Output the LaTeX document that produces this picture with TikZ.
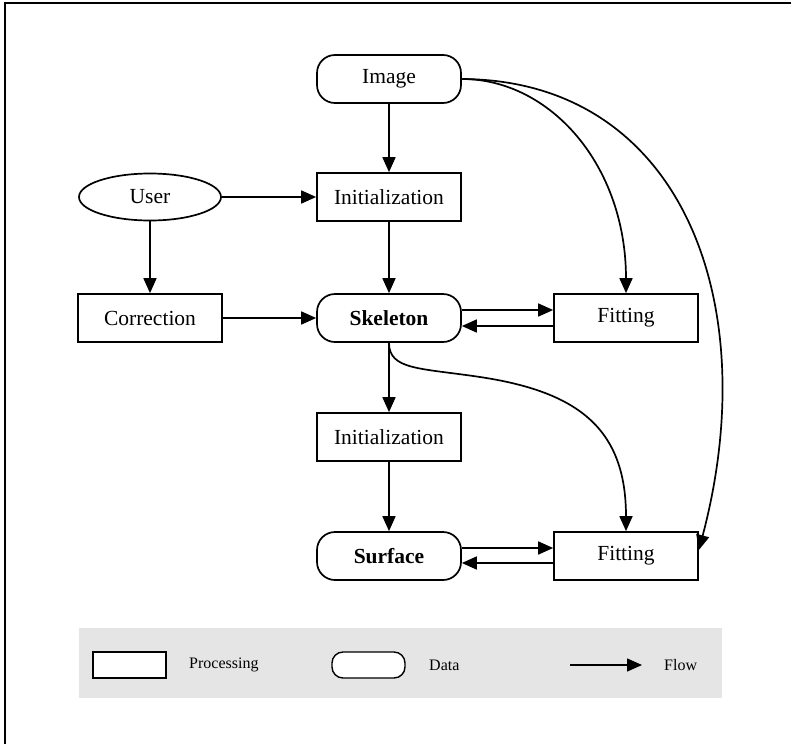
\documentclass[tikz,border=0pt]{standalone}
\usepackage{fontspec}
\setmainfont{Liberation Serif}
\usetikzlibrary{arrows.meta,shapes.geometric}
\begin{document}
\begin{tikzpicture}[x=1pt,y=-1pt,
  txt/.style={font=\fontsize{21.5}{25}\selectfont},
  proc/.style={draw,line width=1.7pt,minimum width=144pt,minimum height=48pt,inner sep=0pt,txt},
  data/.style={proc,rounded corners=18pt},
  usr/.style={draw,ellipse,line width=1.7pt,minimum width=142pt,minimum height=47pt,inner sep=0pt,txt},
  flow/.style={line width=1.7pt,-{Triangle[length=15pt,width=13pt]}},
  lgbox/.style={draw,line width=1.4pt,minimum width=73pt,minimum height=26pt,inner sep=0pt},
  lgtxt/.style={font=\fontsize{16}{18}\selectfont,inner sep=0pt}
  ]
\useasboundingbox (0,0) rectangle (791,744);
% frame
\draw[line width=1.5pt] (5,744) -- (5,3) -- (791,3);

% nodes
\node[data] (img) at (389,79) {Image};
\node[proc] (ini1) at (389,197) {Initialization};
\node[usr] (usr) at (150,197) {User};
\node[proc] (cor) at (150,318) {Correction};
\node[data] (skel) at (389,318) {\textbf{Skeleton}};
\node[proc] (fit1) at (626,318) {Fitting};
\node[proc] (ini2) at (389,437) {Initialization};
\node[data] (surf) at (389,556) {\textbf{Surface}};
\node[proc] (fit2) at (626,556) {Fitting};

% straight flows
\draw[flow] (img.south) -- (ini1.north);
\draw[flow] (usr.east) -- (ini1.west);
\draw[flow] (usr.south) -- (cor.north);
\draw[flow] (ini1.south) -- (skel.north);
\draw[flow] (cor.east) -- (skel.west);
\draw[flow] ([yshift=8pt]skel.east) -- ([yshift=8pt]fit1.west);
\draw[flow] ([yshift=-8pt]fit1.west) -- ([yshift=-8pt]skel.east);
\draw[flow] (skel.south) -- (ini2.north);
\draw[flow] (ini2.south) -- (surf.north);
\draw[flow] ([yshift=8pt]surf.east) -- ([yshift=8pt]fit2.west);
\draw[flow] ([yshift=-7pt]fit2.west) -- ([yshift=-7pt]surf.east);

% curved flows
\draw[flow] (img.east) .. controls (550,79) and (626,165) .. (fit1.north);
\draw[flow] (img.east) .. controls (680,80) and (765,300) .. ([yshift=6pt]fit2.east);
\draw[flow] (skel.south) .. controls (389,370) and (420,368) .. (480,377)
  .. controls (580,392) and (626,430) .. (fit2.north);

% legend
\fill[gray!20] (79,628) rectangle (722,698);
\node[lgbox,fill=white] (lgp) at (129.5,665) {};
\node[lgtxt,anchor=west] (lgpt) at (189,665) {Processing};
\node[lgbox,fill=white,rounded corners=11pt] (lgd) at (368.5,665) {};
\node[lgtxt,anchor=west] (lgdt) at (429,665) {Data};
\coordinate (la) at (570,665);
\coordinate (lb) at (642,665);
\draw[flow,line width=1.4pt] (la) -- (lb);
\node[lgtxt,anchor=west] (lgft) at (664,665) {Flow};
\end{tikzpicture}
\end{document}
